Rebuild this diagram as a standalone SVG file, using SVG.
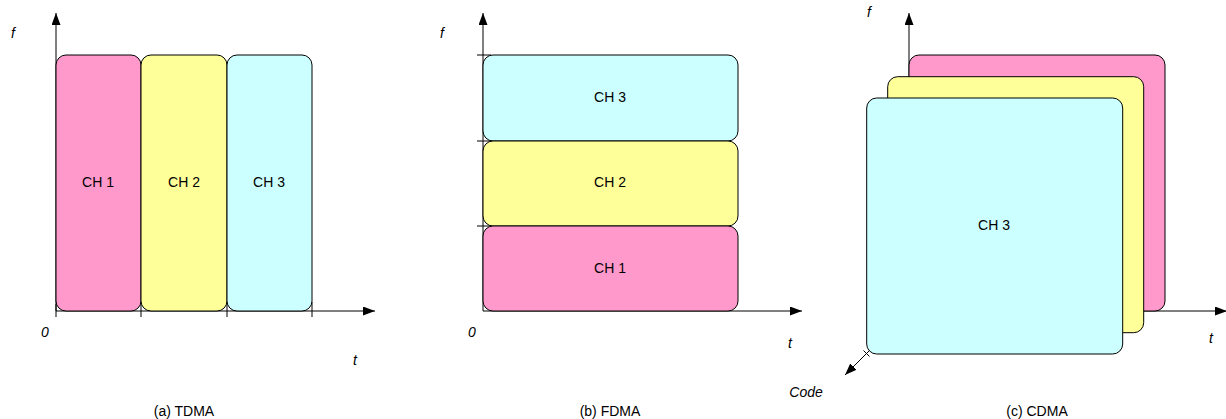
<svg xmlns="http://www.w3.org/2000/svg" width="1226" height="419" viewBox="0 0 1226 419">
  <style>
    .axis { stroke: #000; stroke-width: 1; fill: none; }
    .tick { stroke: #000; stroke-width: 1; fill: none; }
    .ch { stroke: #000; stroke-width: 1; }
    .pink { fill: #FF99CC; }
    .yellow { fill: #FFFF99; }
    .cyan { fill: #CCFFFF; }
    text { font-family: "Liberation Sans", Arial, sans-serif; font-size: 14px; fill: #000; }
    .lbl { text-anchor: middle; }
    .it { font-style: italic; }
  </style>
  <defs>
    <marker id="arrow" markerUnits="userSpaceOnUse" markerWidth="12" markerHeight="9" refX="12" refY="4.5" orient="auto" viewBox="0 0 12 9">
      <path d="M0,0 L12,4.5 L0,9 Z" fill="#000"/>
    </marker>
  </defs>

  <!-- axes and ticks -->
  <g id="connectors">
    <!-- TDMA axes -->
    <line class="axis" x1="56" y1="311" x2="56" y2="13" marker-end="url(#arrow)"/>
    <line class="axis" x1="56" y1="311" x2="375" y2="311" marker-end="url(#arrow)"/>
    <line class="tick" x1="56" y1="304" x2="56" y2="317"/>
    <line class="tick" x1="141" y1="302" x2="141" y2="317"/>
    <line class="tick" x1="227" y1="302" x2="227" y2="317"/>
    <line class="tick" x1="312" y1="302" x2="312" y2="317"/>
    <!-- FDMA axes -->
    <line class="axis" x1="483" y1="311" x2="483" y2="13" marker-end="url(#arrow)"/>
    <line class="axis" x1="483" y1="311" x2="802" y2="311" marker-end="url(#arrow)"/>
    <line class="tick" x1="477" y1="55" x2="491" y2="55"/>
    <line class="tick" x1="477" y1="141" x2="491" y2="141"/>
    <line class="tick" x1="477" y1="226" x2="491" y2="226"/>
    <!-- CDMA axes -->
    <line class="axis" x1="909" y1="311" x2="909" y2="13" marker-end="url(#arrow)"/>
    <line class="axis" x1="909" y1="311" x2="1227" y2="311" marker-end="url(#arrow)"/>
    <line class="axis" x1="909" y1="311" x2="845" y2="375" marker-end="url(#arrow)"/>
    <line class="tick" x1="863.5" y1="350.5" x2="869.5" y2="356.5"/>
  </g>

  <!-- (a) TDMA -->
  <g id="tdma-ch1">
    <rect class="ch pink" x="56" y="55" width="85" height="256" rx="10"/>
    <text class="lbl" x="98" y="187">CH 1</text>
  </g>
  <g id="tdma-ch2">
    <rect class="ch yellow" x="141" y="55" width="86" height="256" rx="10"/>
    <text class="lbl" x="184" y="187">CH 2</text>
  </g>
  <g id="tdma-ch3">
    <rect class="ch cyan" x="227" y="55" width="85" height="256" rx="10"/>
    <text class="lbl" x="269" y="187">CH 3</text>
  </g>

  <!-- (b) FDMA -->
  <g id="fdma-ch3">
    <rect class="ch cyan" x="483" y="55" width="255" height="86" rx="10"/>
    <text class="lbl" x="610" y="102">CH 3</text>
  </g>
  <g id="fdma-ch2">
    <rect class="ch yellow" x="483" y="141" width="255" height="85" rx="10"/>
    <text class="lbl" x="610" y="187">CH 2</text>
  </g>
  <g id="fdma-ch1">
    <rect class="ch pink" x="483" y="226" width="255" height="85" rx="10"/>
    <text class="lbl" x="610" y="273">CH 1</text>
  </g>

  <!-- (c) CDMA: stacked code layers -->
  <g id="cdma-ch1">
    <rect class="ch pink" x="909" y="55" width="256" height="256" rx="10"/>
  </g>
  <g id="cdma-ch2">
    <rect class="ch yellow" x="887.7" y="76.7" width="256" height="256" rx="10"/>
  </g>
  <g id="cdma-ch3">
    <rect class="ch cyan" x="866.7" y="98" width="256" height="256" rx="10"/>
    <text class="lbl" x="994" y="230">CH 3</text>
  </g>

  <!-- axis labels and captions -->
  <g id="labels">
    <text class="lbl it" x="13" y="37.5">f</text>
    <text class="lbl it" x="45" y="337">0</text>
    <text class="lbl it" x="355" y="365">t</text>
    <text class="lbl" x="184" y="416">(a) TDMA</text>

    <text class="lbl it" x="442" y="37.5">f</text>
    <text class="lbl it" x="472" y="337">0</text>
    <text class="lbl it" x="790" y="348">t</text>
    <text class="lbl" x="610" y="416">(b) FDMA</text>

    <text class="lbl it" x="869" y="16.5">f</text>
    <text class="lbl it" x="1211" y="343">t</text>
    <text class="lbl it" x="806" y="397">Code</text>
    <text class="lbl" x="1037" y="416">(c) CDMA</text>
  </g>
</svg>
